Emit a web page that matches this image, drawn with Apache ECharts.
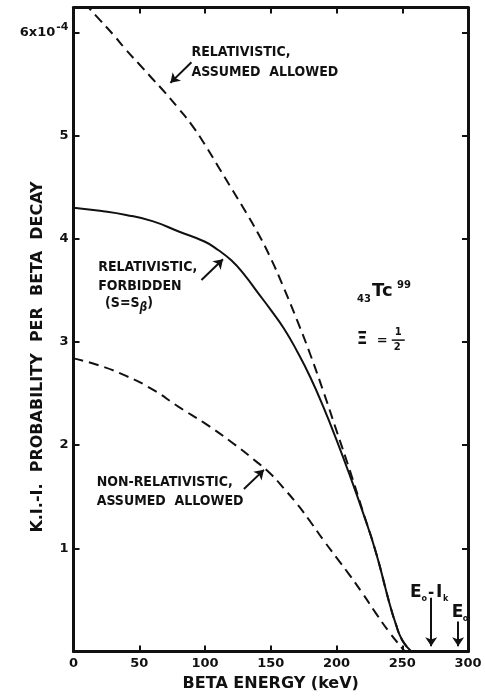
<!DOCTYPE html>
<html><head><meta charset="utf-8">
<script src="https://cdn.jsdelivr.net/npm/echarts@6/dist/echarts.min.js"></script>
<style>html,body{margin:0;padding:0;background:#fff}#c{width:485px;height:698px}</style>
</head><body><div id="c"></div>
<script>
// ---- data ----
const energyForbidden = [0, 20, 40, 60, 80, 100, 110, 120, 130, 140, 150, 160, 170, 180, 190, 200, 210, 220, 230, 240, 245, 250, 257];
const relForbidden    = [4.30, 4.27, 4.23, 4.17, 4.07, 3.97, 3.89, 3.79, 3.65, 3.48, 3.31, 3.13, 2.91, 2.66, 2.37, 2.05, 1.71, 1.35, 0.96, 0.48, 0.27, 0.11, 0];
const energyRelAllowed = [0, 10, 20, 30, 40, 50, 60, 70, 80, 90, 100, 110, 120, 130, 140, 150, 160, 170, 180, 190, 200, 210, 220, 230, 240, 245, 250, 257];
const relAllowed       = [6.40, 6.26, 6.12, 5.98, 5.83, 5.69, 5.55, 5.41, 5.26, 5.10, 4.91, 4.70, 4.49, 4.28, 4.06, 3.81, 3.52, 3.21, 2.88, 2.52, 2.14, 1.76, 1.36, 0.96, 0.48, 0.27, 0.11, 0];
const energyNonRel = [0, 20, 40, 60, 80, 100, 120, 140, 150, 160, 170, 180, 190, 200, 210, 220, 230, 240, 250, 252];
const nonRelAllowed = [2.84, 2.77, 2.67, 2.54, 2.37, 2.21, 2.03, 1.83, 1.72, 1.58, 1.43, 1.26, 1.08, 0.91, 0.74, 0.56, 0.37, 0.19, 0.03, 0];
const xTickValues = [0, 50, 100, 150, 200, 250, 300];
const yTickLabels = ['', '1', '2', '3', '4', '5', '6x10'];
// arrows: [E start, value start, E end, value end]
const arrowsE0 = [89.7, 97.3, 129.6, 272, 292.5];
const arrowsV0 = [5.71, 3.60, 1.575, 0.52, 0.29];
const arrowsE1 = [73.7, 113.7, 144.8, 272, 292.5];
const arrowsV1 = [5.51, 3.80, 1.76, 0.05, 0.05];

const F = "'DejaVu Sans', 'Liberation Sans', sans-serif";
const FC = "'DejaVu Sans Condensed', 'DejaVu Sans', sans-serif";
const INK = '#111';

const pairs = (xs, ys) => xs.map((x, i) => [x, ys[i]]);

const chart = echarts.init(document.getElementById('c'), null, {renderer: 'canvas'});

function axisCommon() {
  return {
    type: 'value',
    axisLine: {show: true, onZero: false, lineStyle: {color: INK, width: 3}},
    axisTick: {show: true, inside: true, length: 6, lineStyle: {color: INK, width: 2}},
    splitLine: {show: false}
  };
}

const option = {
  animation: false,
  backgroundColor: '#fff',
  grid: {left: 73.5, right: 17, top: 7.5, bottom: 46.5},
  xAxis: [
    Object.assign(axisCommon(), {
      min: 0, max: 300, interval: 50, position: 'bottom',
      axisLabel: {margin: 6, color: INK, fontFamily: F, fontWeight: 'bold', fontSize: 13,
        formatter: v => xTickValues.indexOf(v) >= 0 ? String(v) : ''},
      name: 'BETA ENERGY (keV)', nameLocation: 'middle', nameGap: 24,
      nameTextStyle: {color: INK, fontFamily: F, fontWeight: 'bold', fontSize: 16}
    }),
    Object.assign(axisCommon(), {
      min: 0, max: 300, interval: 50, position: 'top', axisLabel: {show: false}
    })
  ],
  yAxis: [
    Object.assign(axisCommon(), {
      min: 0, max: 6.24, interval: 1, position: 'left',
      axisLabel: {margin: 5, color: INK, fontFamily: F, fontWeight: 'bold', fontSize: 13,
        formatter: v => {
          if (!Number.isInteger(v)) return '';
          if (v === 6) return '{a|' + yTickLabels[6] + '}{s|-4}';
          return yTickLabels[v] || '';
        },
        rich: {
          a: {fontFamily: F, fontWeight: 'bold', fontSize: 13, color: INK},
          s: {fontFamily: F, fontWeight: 'bold', fontSize: 11, color: INK, padding: [0, 0, 10, 1]}
        }
      }
    }),
    Object.assign(axisCommon(), {
      min: 0, max: 6.24, interval: 1, position: 'right', axisLabel: {show: false}
    })
  ],
  series: [
    {
      name: 'Relativistic, forbidden', type: 'line', data: pairs(energyForbidden, relForbidden),
      smooth: 0.5, symbol: 'none', clip: true,
      lineStyle: {color: INK, width: 2},
      markLine: {
        silent: true, animation: false,
        symbol: ['none', 'arrow'], symbolSize: 9,
        label: {show: false},
        lineStyle: {color: INK, width: 2, type: 'solid'},
        data: arrowsE0.map((e, i) => [
          {coord: [e, arrowsV0[i]], symbol: 'none'},
          {coord: [arrowsE1[i], arrowsV1[i]], symbol: 'arrow'}
        ])
      }
    },
    {
      name: 'Relativistic, assumed allowed', type: 'line', data: pairs(energyRelAllowed, relAllowed),
      smooth: 0.5, symbol: 'none', clip: true,
      lineStyle: {color: INK, width: 2, type: [10, 6]}
    },
    {
      name: 'Non-relativistic, assumed allowed', type: 'line', data: pairs(energyNonRel, nonRelAllowed),
      smooth: 0.5, symbol: 'none', clip: true,
      lineStyle: {color: INK, width: 2, type: [10, 6]}
    }
  ]
};
chart.setOption(option);

// ---- annotation texts, anchored in data space ----
const px = (e, v) => chart.convertToPixel({gridIndex: 0}, [e, v]);
function txt(p, s, size, opts) {
  return {
    type: 'text', x: p[0], y: p[1], silent: true,
    style: Object.assign({text: s, fill: INK, font: 'bold ' + size + 'px ' + F, align: 'left', verticalAlign: 'middle'}, opts || {})
  };
}
const g = [];
const blocks = [
  {e: 89.7, v: 5.90, lines: 'RELATIVISTIC,\nASSUMED  ALLOWED', lh: 20},
  {e: 18.8, v: 3.82, lines: 'RELATIVISTIC,\nFORBIDDEN', lh: 19.5},
  {e: 17.6, v: 1.737, lines: 'NON-RELATIVISTIC,\nASSUMED  ALLOWED', lh: 19.5}
];
blocks.forEach(b => {
  const p = px(b.e, b.v);
  g.push({type: 'text', x: p[0], y: p[1], silent: true,
    style: {text: b.lines, fill: INK, font: 'bold 14px ' + FC, lineHeight: b.lh, align: 'left', verticalAlign: 'top'}});
});
{
  const p = px(24, 3.47);
  g.push({type: 'text', x: p[0], y: p[1], silent: true,
    style: {text: '(S=S{b|β})', fill: INK, font: 'bold 14px ' + FC, align: 'left', verticalAlign: 'top',
      rich: {b: {font: 'bold italic 12px ' + FC, fill: INK, padding: [8, 0, 0, 0]}}}});
}
{
  const p = px(227, 3.49);
  g.push(txt(p, 'Tc', 18));
  g.push(txt([p[0] - 15, p[1] + 8], '43', 10));
  g.push(txt([p[0] + 25, p[1] - 6], '99', 10));
}
{
  const p = px(215.4, 3.022);
  g.push(txt(p, 'Ξ', 17));
  g.push(txt([p[0] + 20, p[1] + 1], '=', 13));
  g.push(txt([p[0] + 38, p[1] - 7], '1', 10));
  g.push({type: 'line', silent: true, shape: {x1: p[0] + 35, y1: p[1] + 0.5, x2: p[0] + 48, y2: p[1] + 0.5},
    style: {stroke: INK, lineWidth: 1.5}});
  g.push(txt([p[0] + 37, p[1] + 8], '2', 10));
}
{
  const p = px(255.9, 0.567);
  g.push(txt(p, 'E', 17));
  g.push(txt([p[0] + 11.5, p[1] + 6], 'o', 8));
  g.push(txt([p[0] + 18, p[1]], '-', 15));
  g.push(txt([p[0] + 26, p[1]], 'I', 17));
  g.push(txt([p[0] + 33, p[1] + 6], 'k', 8));
  const q = px(287.6, 0.373);
  g.push(txt(q, 'E', 17));
  g.push(txt([q[0] + 11, q[1] + 6], 'o', 8));
}
{
  const p = px(0, 2.854);
  g.push({type: 'text', x: p[0] - 36, y: p[1], rotation: Math.PI / 2, silent: true,
    style: {text: 'K.I.-I.  PROBABILITY  PER  BETA  DECAY', fill: INK, font: 'bold 16px ' + F, align: 'center', verticalAlign: 'middle'}});
}
chart.setOption({graphic: {elements: g}});
</script>
</body></html>
